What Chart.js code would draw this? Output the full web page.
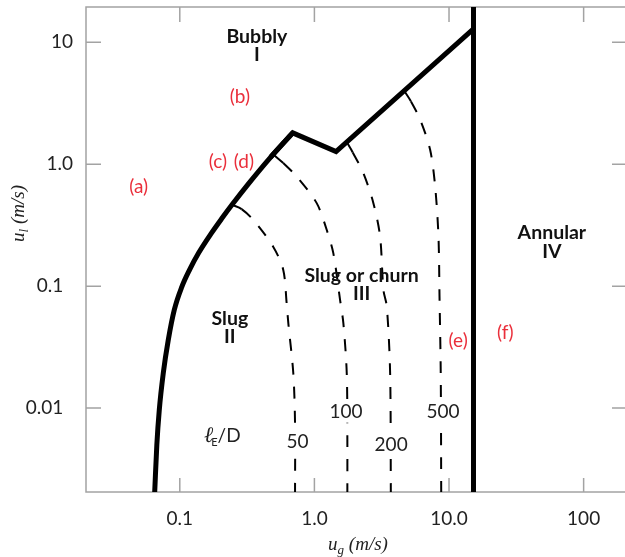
<!DOCTYPE html>
<html>
<head>
<meta charset="utf-8">
<script src="https://cdn.jsdelivr.net/npm/chart.js@4.4.1/dist/chart.umd.min.js"></script>
<style>
  html, body { margin: 0; padding: 0; background: #fff; overflow: hidden; }
  #wrap { width: 640px; height: 557px; }
</style>
</head>
<body>
<div id="wrap"><canvas id="chart-map" width="640" height="557"></canvas></div>
<script>
// flow regime map, vertical upflow (log-log)

// axis ranges and ticks
const UG_MIN = 0.0201, UG_MAX = 210;
const UL_MIN = 0.00205, UL_MAX = 19.5;
const ugTicks = [0.1, 1, 10, 100];
const ugTickLabels = ["0.1", "1.0", "10.0", "100"];
const ulTicks = [0.01, 0.1, 1, 10];
// the two small labels sit a bit further left in the original
const ulTickLabels = ["0.01  ", "0.1  ", "1.0", "10"];

// bubbly / slug boundary (left, curved part)
const leftUg = [0.0651, 0.0675, 0.0704, 0.0754, 0.0821, 0.091, 0.1035, 0.1181, 0.1382, 0.1718, 0.2043, 0.2441, 0.3266, 0.4721, 0.690];
const leftUl = [0.00205, 0.00498, 0.00965, 0.0194, 0.0362, 0.0639, 0.0987, 0.1361, 0.1877, 0.2723, 0.3568, 0.465, 0.7008, 1.141, 1.81];

// upper boundary (straight pieces, peak and valley)
const topUg = [0.4721, 0.690, 1.448, 15.2];
const topUl = [1.141, 1.81, 1.27, 12.9];

// annular transition
const annularUg = [15.2, 15.2];
const annularUl = [0.00205, 19.5];

// entrance length lines lE/D (first point on the boundary, second = tick end)
const le50Ug = [0.2441, 0.288, 0.351, 0.494, 0.587, 0.622, 0.640, 0.697, 0.718, 0.718];
const le50Ul = [0.465, 0.429, 0.350, 0.211, 0.136, 0.0725, 0.0497, 0.0193, 0.0075, 0.00205];
const le100Ug = [0.503, 0.587, 0.738, 1.04, 1.234, 1.382, 1.551, 1.641, 1.739, 1.757, 1.757];
const le100Ul = [1.186, 1.023, 0.794, 0.480, 0.290, 0.1866, 0.0772, 0.0497, 0.0193, 0.00547, 0.00205];
const le200Ug = [1.739, 1.928, 2.311, 2.743, 3.076, 3.256, 3.451, 3.652, 3.696];
const le200Ul = [1.525, 1.25, 0.847, 0.480, 0.255, 0.0933, 0.068, 0.0193, 0.00205];
const le500Ug = [4.64, 5.21, 6.11, 7.24, 7.89, 8.35, 8.50, 8.68, 8.75];
const le500Ul = [4.01, 3.28, 2.32, 1.315, 0.657, 0.255, 0.0822, 0.0193, 0.00205];

// text on the map (data units)
const regionNames = [["Bubbly", "I"], ["Slug", "II"], ["Slug or churn", "III"], ["Annular", "IV"]];
const regionUg = [0.374, 0.2355, 2.24, 58.1];
const regionUl = [9.89, 0.0481, 0.109, 0.243];

const caseNames = ["(a)", "(b)", "(c)", "(d)", "(e)", "(f)"];
const caseUg = [0.0495, 0.2795, 0.192, 0.299, 11.7, 26.2];
const caseUl = [0.657, 3.55, 1.048, 1.048, 0.0356, 0.0414];

const leNames = ["50", "100", "200", "500"];
const leUg = [0.748, 1.718, 3.715, 9.01];
const leUl = [0.0053, 0.00934, 0.00501, 0.00934];

const pts = (xs, ys) => xs.map((x, i) => ({ x: x, y: ys[i] }));

const dashed = (xs, ys) => ({
  data: pts(xs, ys),
  showLine: true,
  borderColor: "#000",
  borderWidth: 2,
  pointRadius: 0,
  tension: 0.3,
  borderDash: [],
  segment: { borderDash: c => (c.p0DataIndex > 0 ? [12, 12] : undefined) },
});

function drawUnitTitle(ctx, sub) {
  const big = "italic 19px 'Liberation Serif'";
  const small = "italic 13px 'Liberation Serif'";
  ctx.font = big;
  const wu = ctx.measureText("u").width;
  const wr = ctx.measureText(" (m/s)").width;
  ctx.font = small;
  const ws = ctx.measureText(sub).width;
  let cx = -(wu + ws + wr) / 2;
  ctx.textAlign = "left";
  ctx.textBaseline = "alphabetic";
  ctx.font = big;
  ctx.fillText("u", cx, 0);
  cx += wu;
  ctx.font = small;
  ctx.fillText(sub, cx, 4);
  cx += ws;
  ctx.font = big;
  ctx.fillText(" (m/s)", cx, 0);
}

const mapDecor = {
  id: "mapDecor",
  beforeDatasetsDraw(chart) {
    const { ctx, chartArea: a, scales: { x, y } } = chart;
    ctx.save();
    ctx.strokeStyle = "#a3a3a3";
    ctx.lineWidth = 1.5;
    ctx.strokeRect(a.left, a.top, a.right - a.left, a.bottom - a.top);
    ctx.beginPath();
    ugTicks.forEach(v => {
      const px = x.getPixelForValue(v);
      ctx.moveTo(px, a.bottom);
      ctx.lineTo(px, a.bottom - 14);
      ctx.moveTo(px, a.top);
      ctx.lineTo(px, a.top + 15);
    });
    ulTicks.forEach(v => {
      const py = y.getPixelForValue(v);
      ctx.moveTo(a.left, py);
      ctx.lineTo(a.left + 15, py);
      ctx.moveTo(a.right, py);
      ctx.lineTo(a.right - 15, py);
    });
    ctx.stroke();
    ctx.restore();
  },
  afterDatasetsDraw(chart) {
    const { ctx, scales: { x, y } } = chart;
    ctx.save();

    // regime names
    ctx.fillStyle = "#111";
    ctx.font = "bold 19.5px Lato";
    ctx.textAlign = "center";
    ctx.textBaseline = "alphabetic";
    regionNames.forEach((lines, i) => {
      const px = x.getPixelForValue(regionUg[i]);
      const py = y.getPixelForValue(regionUl[i]);
      lines.forEach((t, k) => ctx.fillText(t, px, py + k * 18.5));
    });

    // red case markers
    ctx.fillStyle = "#ea2f3b";
    ctx.font = "19px Lato";
    ctx.textBaseline = "middle";
    caseNames.forEach((t, i) => {
      ctx.fillText(t, x.getPixelForValue(caseUg[i]), y.getPixelForValue(caseUl[i]));
    });

    // lE/D values, on white
    ctx.font = "19px Lato";
    leNames.forEach((t, i) => {
      const px = x.getPixelForValue(leUg[i]);
      const py = y.getPixelForValue(leUl[i]);
      const w = ctx.measureText(t).width;
      ctx.fillStyle = "#fff";
      ctx.fillRect(px - w / 2 - 2, py - 11, w + 4, 22);
      ctx.fillStyle = "#222";
      ctx.fillText(t, px, py);
    });

    // lE/D caption
    const cx = x.getPixelForValue(0.207);
    const cy = y.getPixelForValue(0.00601);
    ctx.textAlign = "left";
    ctx.textBaseline = "alphabetic";
    ctx.font = "italic 22px 'DejaVu Serif'";
    const wl = ctx.measureText("\u2113").width;
    ctx.font = "11px Lato";
    const we = ctx.measureText("E").width;
    ctx.font = "19px Lato";
    const wd = ctx.measureText("/D").width;
    let sx = cx - (wl + we + wd - 2) / 2;
    const base = cy + 7;
    ctx.fillStyle = "#222";
    ctx.font = "italic 22px 'DejaVu Serif'";
    ctx.fillText("\u2113", sx, base);
    sx += wl - 2;
    ctx.font = "11px Lato";
    ctx.fillText("E", sx, base + 4);
    sx += we;
    ctx.font = "19px Lato";
    ctx.fillText("/D", sx, base);
    ctx.restore();
  },
  afterDraw(chart) {
    const { ctx } = chart;
    ctx.save();
    ctx.fillStyle = "#222";
    ctx.translate(358, 550);
    drawUnitTitle(ctx, "g");
    ctx.restore();
    ctx.save();
    ctx.fillStyle = "#222";
    ctx.translate(23.5, 213.5);
    ctx.rotate(-Math.PI / 2);
    drawUnitTitle(ctx, "l");
    ctx.restore();
  },
};

const ctx = document.getElementById("chart-map").getContext("2d");

new Chart(ctx, {
  type: "scatter",
  data: {
    datasets: [
      {
        data: pts(leftUg, leftUl),
        showLine: true,
        borderColor: "#000",
        borderWidth: 5,
        pointRadius: 0,
        cubicInterpolationMode: "monotone",
      },
      {
        data: pts(topUg, topUl),
        showLine: true,
        borderColor: "#000",
        borderWidth: 5,
        pointRadius: 0,
        tension: 0,
        borderJoinStyle: "miter",
      },
      {
        data: pts(annularUg, annularUl),
        showLine: true,
        borderColor: "#000",
        borderWidth: 5,
        pointRadius: 0,
      },
      dashed(le50Ug, le50Ul),
      dashed(le100Ug, le100Ul),
      dashed(le200Ug, le200Ul),
      dashed(le500Ug, le500Ul),
    ],
  },
  options: {
    responsive: false,
    animation: false,
    devicePixelRatio: 1,
    layout: { padding: { top: 7, right: 13, left: 0, bottom: 0 } },
    plugins: {
      legend: { display: false },
      tooltip: { enabled: false },
    },
    scales: {
      x: {
        type: "logarithmic",
        min: UG_MIN,
        max: UG_MAX,
        afterBuildTicks: s => { s.ticks = ugTicks.map(v => ({ value: v })); },
        afterFit: s => {
          s.height = 65;
          s.paddingLeft = 0;
          s.paddingRight = 0;
        },
        grid: { display: false, drawTicks: false },
        border: { display: false },
        ticks: {
          autoSkip: false,
          maxRotation: 0,
          padding: 15,
          color: "#222",
          font: { family: "Lato", size: 19 },
          callback: (v, i) => ugTickLabels[i],
        },
      },
      y: {
        type: "logarithmic",
        min: UL_MIN,
        max: UL_MAX,
        afterBuildTicks: s => { s.ticks = ulTicks.map(v => ({ value: v })); },
        afterFit: s => {
          s.width = 86;
          s.paddingTop = 0;
          s.paddingBottom = 0;
        },
        grid: { display: false, drawTicks: false },
        border: { display: false },
        ticks: {
          autoSkip: false,
          padding: 13,
          color: "#222",
          font: { family: "Lato", size: 19 },
          callback: (v, i) => ulTickLabels[i],
        },
      },
    },
  },
  plugins: [mapDecor],
});
</script>
</body>
</html>
